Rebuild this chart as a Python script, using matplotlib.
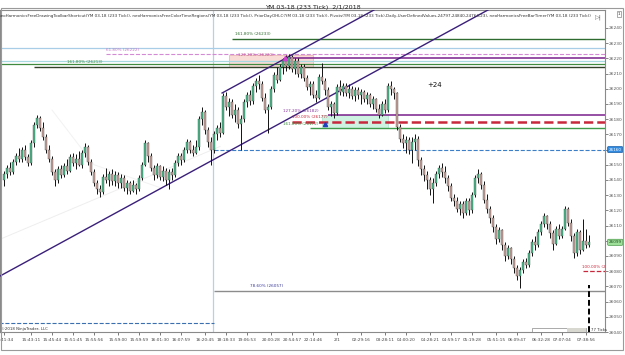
import matplotlib
matplotlib.use('Agg')
import matplotlib.pyplot as plt
from matplotlib.patches import Rectangle

# YM 03-18 (233 Tick) bars
opens = [26140, 26144, 26148, 26145, 26152, 26156, 26154, 26160, 26155, 26151,
         26164, 26176, 26181, 26174, 26168, 26160, 26154, 26145, 26140, 26147,
         26143, 26149, 26146, 26155, 26151, 26154, 26150, 26158, 26162, 26152,
         26145, 26138, 26134, 26132, 26142, 26140, 26144, 26139, 26143, 26138,
         26141, 26135, 26138, 26133, 26137, 26134, 26141, 26150, 26164, 26156,
         26148, 26143, 26149, 26142, 26146, 26140, 26145, 26143, 26151, 26156,
         26153, 26160, 26165, 26160, 26158, 26162, 26180, 26185, 26173, 26165,
         26160, 26170, 26174, 26171, 26195, 26188, 26191, 26183, 26186, 26177,
         26180, 26191, 26196, 26192, 26202, 26205, 26203, 26194, 26186, 26188,
         26200, 26209, 26206, 26214, 26218, 26215, 26221, 26213, 26218, 26210,
         26214, 26207, 26201, 26203, 26196, 26194, 26208, 26205, 26199, 26188,
         26190, 26184, 26201, 26198, 26202, 26197, 26200, 26195, 26199, 26196,
         26198, 26193, 26196, 26190, 26193, 26187, 26183, 26190, 26186, 26202,
         26200, 26197, 26175, 26167, 26164, 26166, 26160, 26165, 26167, 26153,
         26147, 26143, 26140, 26134, 26138, 26144, 26148, 26145, 26141, 26136,
         26128, 26126, 26121, 26124, 26118, 26126, 26120, 26130, 26141, 26144,
         26137, 26127, 26121, 26115, 26109, 26101, 26107, 26097, 26090, 26095,
         26088, 26082, 26077, 26081, 26086, 26084, 26092, 26099, 26097, 26106,
         26111, 26116, 26111, 26105, 26098, 26108, 26103, 26108, 26121, 26112,
         26103, 26092, 26106, 26094, 26100, 26097]
highs = [26146, 26150, 26152, 26154, 26158, 26161, 26162, 26163, 26157, 26166,
         26178, 26183, 26182, 26178, 26170, 26163, 26156, 26147, 26149, 26150,
         26151, 26154, 26157, 26158, 26157, 26159, 26160, 26164, 26163, 26154,
         26147, 26140, 26137, 26144, 26148, 26146, 26147, 26146, 26145, 26144,
         26143, 26140, 26139, 26140, 26138, 26143, 26152, 26166, 26165, 26158,
         26150, 26151, 26150, 26149, 26148, 26147, 26148, 26153, 26158, 26158,
         26162, 26167, 26166, 26163, 26166, 26182, 26188, 26186, 26175, 26168,
         26172, 26176, 26178, 26197, 26198, 26194, 26193, 26190, 26188, 26183,
         26193, 26198, 26199, 26204, 26207, 26209, 26205, 26197, 26190, 26202,
         26211, 26214, 26216, 26220, 26222, 26223, 26222, 26220, 26220, 26216,
         26216, 26209, 26205, 26205, 26199, 26210, 26217, 26207, 26201, 26192,
         26191, 26203, 26206, 26204, 26204, 26203, 26202, 26201, 26201, 26200,
         26199, 26198, 26197, 26195, 26194, 26190, 26192, 26193, 26204, 26205,
         26201, 26198, 26177, 26170, 26169, 26168, 26168, 26170, 26169, 26155,
         26150, 26146, 26142, 26141, 26146, 26150, 26151, 26149, 26143, 26138,
         26131, 26129, 26126, 26126, 26128, 26128, 26132, 26143, 26147, 26145,
         26139, 26131, 26123, 26117, 26111, 26109, 26108, 26099, 26097, 26096,
         26090, 26084, 26083, 26088, 26089, 26094, 26101, 26103, 26108, 26113,
         26118, 26117, 26113, 26107, 26110, 26111, 26110, 26123, 26122, 26114,
         26105, 26108, 26107, 26114, 26108, 26104]
lows = [26136, 26141, 26143, 26144, 26150, 26152, 26152, 26153, 26149, 26150,
        26162, 26174, 26172, 26166, 26158, 26152, 26143, 26136, 26138, 26141,
        26142, 26144, 26145, 26149, 26147, 26149, 26148, 26155, 26150, 26143,
        26136, 26131, 26129, 26131, 26138, 26136, 26137, 26136, 26135, 26135,
        26133, 26131, 26131, 26132, 26131, 26133, 26140, 26149, 26152, 26146,
        26140, 26141, 26140, 26139, 26137, 26134, 26140, 26142, 26149, 26150,
        26152, 26158, 26158, 26156, 26157, 26160, 26176, 26170, 26162, 26150,
        26158, 26166, 26168, 26170, 26186, 26182, 26181, 26178, 26174, 26160,
        26178, 26188, 26189, 26190, 26198, 26200, 26192, 26184, 26171, 26187,
        26198, 26204, 26205, 26210, 26212, 26213, 26211, 26210, 26208, 26207,
        26205, 26199, 26196, 26194, 26191, 26193, 26203, 26196, 26186, 26182,
        26181, 26183, 26196, 26195, 26195, 26194, 26193, 26192, 26193, 26190,
        26191, 26190, 26188, 26187, 26185, 26181, 26182, 26184, 26185, 26196,
        26193, 26173, 26165, 26161, 26158, 26157, 26151, 26160, 26149, 26143,
        26139, 26134, 26130, 26125, 26136, 26141, 26142, 26138, 26133, 26126,
        26123, 26119, 26117, 26115, 26117, 26117, 26118, 26129, 26138, 26134,
        26125, 26118, 26112, 26106, 26098, 26099, 26094, 26087, 26088, 26085,
        26079, 26074, 26069, 26079, 26082, 26083, 26090, 26094, 26096, 26104,
        26109, 26108, 26102, 26094, 26097, 26101, 26102, 26107, 26110, 26100,
        26089, 26090, 26091, 26093, 26095, 26096]
closes = [26144, 26148, 26145, 26152, 26156, 26154, 26160, 26155, 26151, 26164,
          26176, 26181, 26174, 26168, 26160, 26154, 26145, 26140, 26147, 26143,
          26149, 26146, 26155, 26151, 26154, 26150, 26158, 26162, 26152, 26145,
          26138, 26134, 26132, 26142, 26140, 26144, 26139, 26143, 26138, 26141,
          26135, 26138, 26133, 26137, 26134, 26141, 26150, 26164, 26156, 26148,
          26143, 26149, 26142, 26146, 26140, 26145, 26143, 26151, 26156, 26153,
          26160, 26165, 26160, 26158, 26162, 26180, 26185, 26173, 26165, 26160,
          26170, 26174, 26171, 26195, 26188, 26191, 26183, 26186, 26177, 26180,
          26191, 26196, 26192, 26202, 26205, 26203, 26194, 26186, 26188, 26200,
          26209, 26206, 26214, 26218, 26215, 26221, 26213, 26218, 26210, 26214,
          26207, 26201, 26203, 26196, 26194, 26208, 26205, 26199, 26188, 26190,
          26184, 26201, 26198, 26202, 26197, 26200, 26195, 26199, 26196, 26198,
          26193, 26196, 26190, 26193, 26187, 26183, 26190, 26186, 26202, 26200,
          26197, 26175, 26167, 26164, 26166, 26160, 26165, 26167, 26153, 26147,
          26143, 26140, 26134, 26138, 26144, 26148, 26145, 26141, 26136, 26128,
          26126, 26121, 26124, 26118, 26126, 26120, 26130, 26141, 26144, 26137,
          26127, 26121, 26115, 26109, 26101, 26107, 26097, 26090, 26095, 26088,
          26082, 26077, 26081, 26086, 26084, 26092, 26099, 26097, 26106, 26111,
          26116, 26111, 26105, 26098, 26108, 26103, 26108, 26121, 26112, 26103,
          26092, 26106, 26094, 26100, 26097, 26099]

time_labels = ['15:41:34', '15:43:11', '15:45:44', '15:51:45', '15:55:56', '15:59:00',
               '15:59:59', '16:01:30', '16:07:59', '16:20:45', '18:18:33', '19:06:53',
               '20:00:28', '20:54:57', '22:14:46', '2/1', '02:29:16', '03:28:11',
               '04:00:20', '04:28:21', '04:59:17', '05:19:28', '05:51:15', '06:09:47',
               '06:32:28', '07:07:04', '07:38:56']
time_label_bars = [0, 9, 16, 23, 30, 38, 45, 52, 59, 67, 74, 81, 89, 96, 103, 111,
                   119, 127, 134, 142, 149, 156, 164, 171, 179, 186, 194]

price_ticks = list(range(26040, 26250, 10))
hidden_ticks = [26160, 26100]   # covered by the price markers

# horizontal levels: price, first bar, last bar, colour, style, width
levels = [26233, 26227, 26223, 26220, 26218, 26216, 26214,
          26183, 26178, 26174, 26160, 26067, 26046, 26080]
level_from = [76, -2, 34, 94, -2, -2, 10, 108, 96, 102, 70, 70, -2, 193]
level_to = [201, 201, 201, 201, 201, 201, 201, 201, 201, 201, 201, 201, 70, 201]
level_colors = ['#2e6b2e', '#a8cde6', '#d48ad4', '#7b1f8c', '#a8d8e0', '#3f8a3f', '#33402a',
                '#7b1f8c', '#c8283c', '#3f9a4a', '#3a7fc8', '#8c8c8c', '#3a6fb0', '#c8283c']
level_styles = ['-', '-', '--', '-', '-', '-', '-', '-', '--', '-', '--', '-', '--', '--']
level_widths = [1.0, 0.9, 0.8, 1.1, 0.9, 0.9, 1.0, 1.1, 1.8, 1.0, 0.8, 1.0, 0.8, 0.9]

fib_texts = ['161.80% (26233)', '61.80% (26222)', '127.20% (26220)', '161.80% (26213)',
             '127.20% (26182)', '100.00% (26177)', '161.80% (26172)', '78.60% (26057)',
             '100.00% (2']
fib_bars = [77, 34, 78, 21, 93, 96, 93, 82, 192.5]
fib_prices = [26235.5, 26225, 26221.5, 26217, 26185, 26180.5, 26176, 26069.5, 26082]
fib_colors = ['#2e6b2e', '#c87ac8', '#c86a9a', '#3f8a3f', '#8a3aa0', '#c8283c', '#3f8a3f',
              '#3a3a9a', '#c8283c']

ymin, ymax = 26040, 26251.8
xmin, xmax = -1.33, 200.33

fig = plt.figure(figsize=(6.25, 3.55), dpi=100)
ax = fig.add_axes([0, 1 - 332 / 355, 605 / 625, 322 / 355])
ax.set_xlim(xmin, xmax)
ax.set_ylim(ymin, ymax)

# shaded harmonic zones
ax.add_patch(Rectangle((75, 26214), 28, 8, facecolor='#f9dcd6', edgecolor='#e8b0a8', lw=0.5, zorder=1))
ax.add_patch(Rectangle((106, 26174), 22, 9, facecolor='#cdf2e2', edgecolor='#a8e0c8', lw=0.5, zorder=1))

for p, a, b, c, s, w in zip(levels, level_from, level_to, level_colors, level_styles, level_widths):
    ax.hlines(p, a, b, colors=c, linestyles=s, linewidth=w, zorder=2)

# session divider
ax.axvline(69.7, color='#b8d0e0', lw=0.9, zorder=1)

# faint trend lines
ax.plot([-1.33, 72], [26101, 26162], color='#eeeeee', lw=0.7, zorder=1)
ax.plot([16, 30, 52], [26186, 26150, 26135], color='#f2f2f2', lw=0.7, zorder=1)

# channel
ax.plot([-1.33, 161.3], [26076.8, 26251.8], color='#3a1f7a', lw=1.0, zorder=3)
ax.plot([72.7, 123.3], [26197.2, 26251.8], color='#3a1f7a', lw=1.0, zorder=3)

# candles
idx = list(range(len(closes)))
ax.vlines(idx, lows, highs, colors='#111111', linewidth=0.7, zorder=4)
bottoms = [min(o, c) for o, c in zip(opens, closes)]
heights = [max(abs(c - o), 0.6) for o, c in zip(opens, closes)]
colors = ['#4cbb8c' if c >= o else '#c9a39b' for o, c in zip(opens, closes)]
ax.bar(idx, heights, bottom=bottoms, width=0.72, color=colors,
       edgecolor='#3a3a3a', linewidth=0.25, zorder=5)

ax.plot([93.7], [26220.5], marker='^', color='#d040d0', ms=3, zorder=6)
ax.plot([107], [26177], marker='^', color='#2040c0', ms=3, zorder=6)

for t, b, p, c in zip(fib_texts, fib_bars, fib_prices, fib_colors):
    ax.text(b, p, t, color=c, fontsize=3.0, zorder=6)

ax.text(141, 26201, '+24', fontsize=5, color='#111111', zorder=6)

# bar timer
ax.vlines(195, ymin, 26071, colors='black', linestyles=(0, (3, 1.5)), linewidth=1.4, zorder=6)
ax.add_patch(Rectangle((176, 26040.3), 18, 2.6, facecolor='white', edgecolor='#888888', lw=0.5, zorder=6))
ax.add_patch(Rectangle((187.5, 26040.3), 6.5, 2.6, facecolor='#d8d8d0', edgecolor='none', zorder=6))
ax.text(195.6, 26040.8, '77 Ticks', fontsize=2.8, color='#333333', zorder=6)
ax.text(-1, 26041.5, '\u00a92018 NinjaTrader, LLC', fontsize=2.8, color='#333333', zorder=6)

# axes styling
for sp in ax.spines.values():
    sp.set_color('#8a8a8a')
    sp.set_linewidth(0.8)
ax.yaxis.tick_right()
ax.set_yticks(price_ticks)
ax.set_yticklabels(['' if t in hidden_ticks else str(t) for t in price_ticks])
ax.tick_params(axis='y', labelsize=3.2, colors='#555555', length=2, width=0.5, pad=0.8)
ax.set_xticks(time_label_bars)
ax.set_xticklabels(time_labels)
ax.tick_params(axis='x', labelsize=3.1, colors='#444444', length=2, width=0.5, pad=2.5)

ytr = ax.get_yaxis_transform()
ax.text(1.006, 26160, '26160', transform=ytr, fontsize=3.0, color='white', va='center',
        bbox=dict(boxstyle='round,pad=0.25', fc='#2f8ae0', ec='#1a5fa8', lw=0.5), zorder=7)
ax.text(1.006, 26099, '26099', transform=ytr, fontsize=3.0, color='#1a4a1a', va='center',
        bbox=dict(boxstyle='round,pad=0.25', fc='#9ee09a', ec='#4a9a4a', lw=0.5), zorder=7)

fig.text(0.5, 1 - 7 / 355, 'YM 03-18 (233 Tick)  2/1/2018', ha='center', va='center',
         fontsize=4.6, color='#222222')
fig.text(-0.004, 1 - 15.5 / 355,
         'neoHarmonicsFreeDrawingToolbarShortcut(YM 03-18 (233 Tick)), neoHarmonicsFreeColorTimeRegions(YM 03-18 (233 Tick)), '
         'PriorDayOHLC(YM 03-18 (233 Tick)), Pivots(YM 03-18 (233 Tick),Daily,UserDefinedValues,24797,24840,24764,23), '
         'neoHarmonicsFreeBarTimer(YM 03-18 (233 Tick))',
         ha='left', va='center', fontsize=3.0, color='#333333')
fig.text(595 / 625, 1 - 17 / 355, '▷|', fontsize=4.5, color='#666666', va='center')
fig.text(619 / 625, 1 - 14 / 355, '1', fontsize=3.0, color='#333333', va='center', ha='center',
         bbox=dict(boxstyle='square,pad=0.2', fc='white', ec='#888888', lw=0.5))

# outer frame
fig.patches.append(Rectangle((1 / 625, 5 / 355), 622 / 625, 342 / 355, transform=fig.transFigure,
                             fill=False, ec='#9a9a9a', lw=0.8))

fig.savefig('out.png', dpi=100)
